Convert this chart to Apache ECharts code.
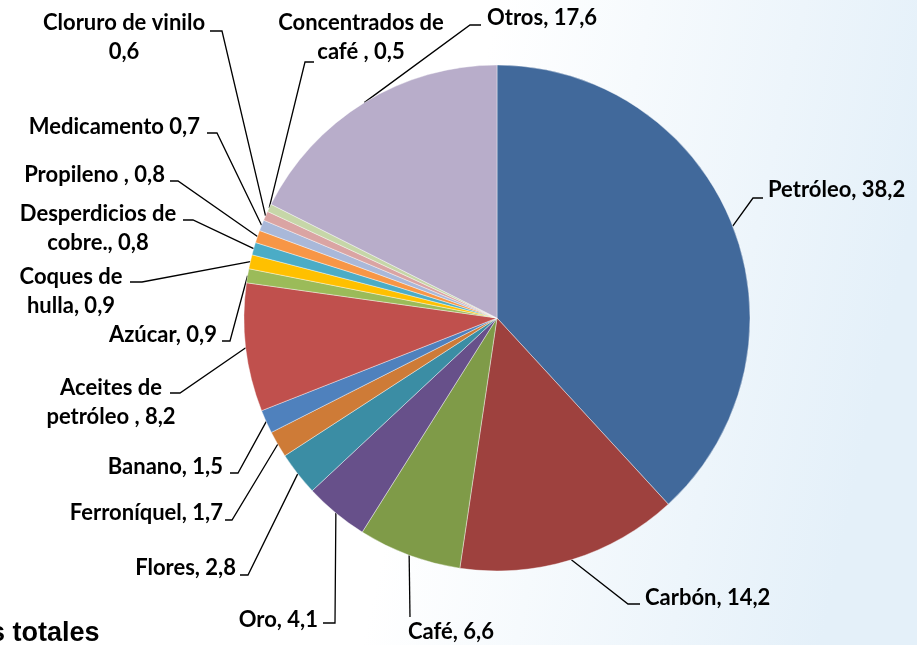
<!DOCTYPE html>
<html>
<head>
<meta charset="utf-8">
<script src="https://cdn.jsdelivr.net/npm/echarts@6/dist/echarts.min.js"></script>
<style>
  html, body { margin: 0; padding: 0; }
  #chart { width: 917px; height: 645px; }
</style>
</head>
<body>
<div id="chart"></div>
<script>
// data
var productos = ['Petróleo', 'Carbón', 'Café', 'Oro', 'Flores', 'Ferroníquel', 'Banano',
  'Aceites de\npetróleo ', 'Azúcar', 'Coques de\nhulla', 'Desperdicios de\ncobre.', 'Propileno ',
  'Medicamento', 'Cloruro de vinilo\n', 'Concentrados de\ncafé ', 'Otros'];
var participacion = [38.2, 14.2, 6.6, 4.1, 2.8, 1.7, 1.5, 8.2, 0.9, 0.9, 0.8, 0.8, 0.7, 0.6, 0.5, 17.6];
var separador = [', ', ', ', ', ', ', ', ', ', ', ', ', ', ', ', ', ', ', ', ', ', ', ', ' ', '', ', ', ', '];
var colores = ['#41699B', '#9E413E', '#7F9B48', '#67508A', '#3B8DA4', '#CE7B37', '#4F81BD',
  '#C0504D', '#9BBB59', '#FFC000', '#4BACC6', '#F79646', '#A9B8D9', '#DAA4A3', '#C6D6A8', '#B8ADCA'];

// label placement: text x, text y, align, elbow x, elbow y, end x, end y
var etiquetas = [
  [768, 190, 'left', 753, 198, 763, 198],
  [645, 598, 'left', 628, 604, 640, 604],
  [408, 632, 'left', 410, 617, 410, 617],
  [318, 620, 'right', 335, 623, 323, 623],
  [236, 568, 'right', 248, 575, 240, 575],
  [223, 513, 'right', 232, 520, 225, 520],
  [223, 467, 'right', 238, 473, 230, 473],
  [111, 402, 'center', 180, 393, 170, 393],
  [217, 335, 'right', 230, 341, 222, 341],
  [71, 291, 'center', 142, 282, 130, 282],
  [98, 228, 'center', 193, 220, 183, 220],
  [165, 175, 'right', 178, 181, 170, 181],
  [200, 127, 'right', 217, 133, 207, 133],
  [124, 37, 'center', 222, 31, 210, 31],
  [361, 37, 'center', 305, 62, 314, 62],
  [487, 18, 'left', 470, 25, 481, 25]
];

function fmt(v) {
  return String(v).replace('.', ',');
}

var datos = productos.map(function (p, i) {
  return {
    name: p,
    value: participacion[i],
    itemStyle: { color: colores[i] }
  };
});

var dom = document.getElementById('chart');
var myChart = echarts.init(dom, null, { renderer: 'canvas' });

var option = {
  animation: false,
  backgroundColor: {
    type: 'linear', x: 0, y: 0, x2: 1, y2: 0.3,
    colorStops: [
      { offset: 0, color: '#ffffff' },
      { offset: 0.52, color: '#ffffff' },
      { offset: 1, color: '#e4f0f9' }
    ]
  },
  graphic: [{
    type: 'text',
    left: -10,
    top: 620,
    style: {
      text: 's totales',
      font: 'bold 27px "Liberation Sans", Arial, sans-serif',
      fill: '#000'
    }
  }],
  series: [{
    type: 'pie',
    center: [497, 318],
    radius: 253,
    startAngle: 90,
    clockwise: true,
    avoidLabelOverlap: false,
    data: datos,
    itemStyle: { borderColor: '#ffffff', borderWidth: 0.4 },
    label: {
      show: true,
      position: 'outside',
      formatter: function (p) {
        return p.name + separador[p.dataIndex] + fmt(p.value);
      },
      fontFamily: 'Lato, "Open Sans", sans-serif',
      fontWeight: 'bold',
      fontSize: 22,
      lineHeight: 29,
      color: '#000'
    },
    labelLine: {
      show: true,
      lineStyle: { color: '#000', width: 1.3 }
    },
    labelLayout: function (params) {
      var e = etiquetas[params.dataIndex];
      var a = params.labelLinePoints ? params.labelLinePoints[0] : [e[3], e[4]];
      return {
        x: e[0],
        y: e[1],
        align: e[2],
        verticalAlign: 'middle',
        labelLinePoints: [[a[0], a[1]], [e[3], e[4]], [e[5], e[6]]]
      };
    }
  }]
};

myChart.setOption(option);
window.addEventListener('resize', myChart.resize);
</script>
</body>
</html>
